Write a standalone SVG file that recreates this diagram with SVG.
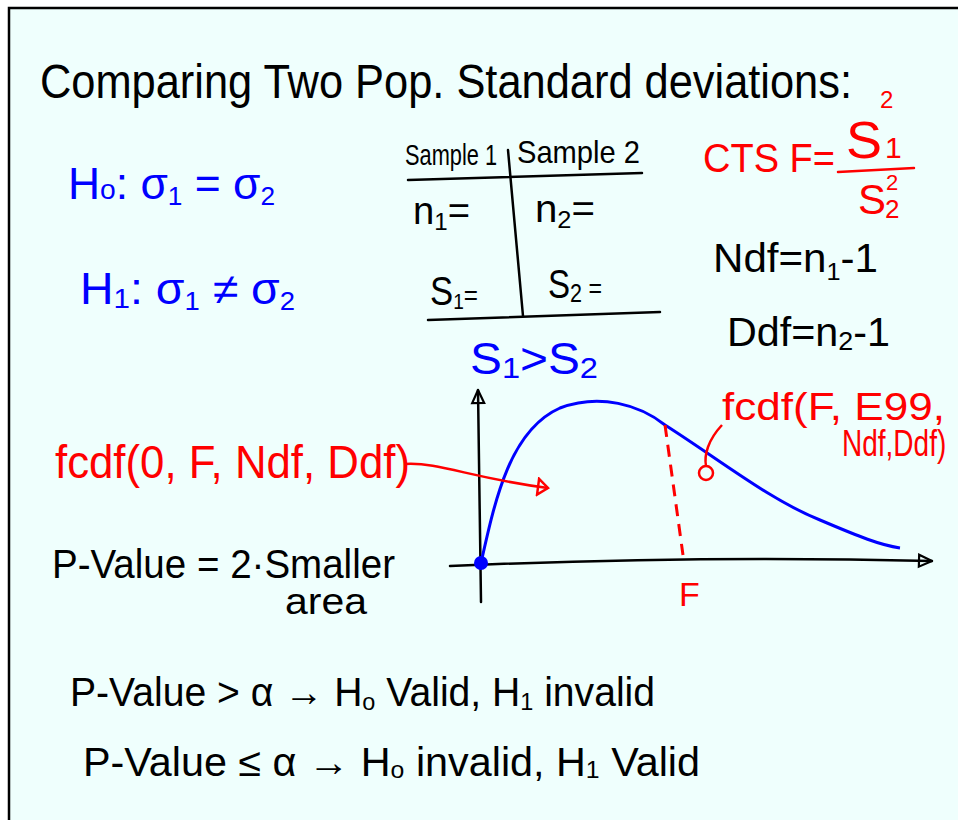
<svg xmlns="http://www.w3.org/2000/svg" width="958" height="820" viewBox="0 0 958 820">
<style>
.t{font-family:"Liberation Sans","DejaVu Sans",sans-serif;}
.k{fill:#000}
.b{fill:#0000ff}
.r{fill:#ff0000}
.ln{fill:none;stroke:#000;stroke-width:2.5;stroke-linecap:round}
</style>
<defs>
<marker id="openTri" viewBox="0 0 16 16" refX="15" refY="8" markerWidth="16" markerHeight="16" markerUnits="userSpaceOnUse" orient="auto">
<path d="M2,2 L15,8 L2,14 Z" fill="none" stroke="#000" stroke-width="2.2"/>
</marker>
<marker id="redTri" viewBox="0 0 14 20" refX="12" refY="10" markerWidth="14" markerHeight="20" markerUnits="userSpaceOnUse" orient="auto">
<path d="M2,2 L12,10 L2,18 Z" fill="none" stroke="#f00" stroke-width="2.5"/>
</marker>
</defs>
<rect x="0" y="0" width="958" height="820" fill="#fff"/>
<rect x="9" y="8" width="960" height="830" fill="#effffd" stroke="#000" stroke-width="2.5"/>

<g id="title"><text class="t k" x="40" y="98" font-size="48" textLength="812" lengthAdjust="spacingAndGlyphs">Comparing  Two  Pop.  Standard  deviations:</text></g>

<g id="h0"><text class="t b" x="68" y="199" font-size="44" textLength="207" lengthAdjust="spacingAndGlyphs">H<tspan font-size="28">o</tspan>: σ<tspan font-size="26" dy="6">1</tspan><tspan dy="-6"> = σ</tspan><tspan font-size="26" dy="6">2</tspan></text></g>
<g id="h1"><text class="t b" x="80" y="304" font-size="44" textLength="215" lengthAdjust="spacingAndGlyphs">H<tspan font-size="28" dy="4">1</tspan><tspan dy="-4">: σ</tspan><tspan font-size="26" dy="6">1</tspan><tspan dy="-6"> ≠ σ</tspan><tspan font-size="26" dy="6">2</tspan></text></g>

<g id="table">
<text class="t k" x="405" y="165" font-size="30" textLength="92" lengthAdjust="spacingAndGlyphs">Sample 1</text>
<text class="t k" x="517" y="163" font-size="32" textLength="123" lengthAdjust="spacingAndGlyphs">Sample 2</text>
<path class="ln" d="M408,180 L642,173"/>
<path class="ln" d="M508,150 L523,316"/>
<path class="ln" d="M428,320 L660,312"/>
<text class="t k" x="413" y="224" font-size="38" textLength="57" lengthAdjust="spacingAndGlyphs">n<tspan font-size="24" dy="6">1</tspan><tspan dy="-6">=</tspan></text>
<text class="t k" x="535" y="222" font-size="38" textLength="60" lengthAdjust="spacingAndGlyphs">n<tspan font-size="24" dy="6">2</tspan><tspan dy="-6">=</tspan></text>
<text class="t k" x="430" y="305" font-size="40" textLength="48" lengthAdjust="spacingAndGlyphs">S<tspan font-size="22" dy="4">1</tspan><tspan dy="-4" font-size="28">=</tspan></text>
<text class="t k" x="548" y="298" font-size="40" textLength="54" lengthAdjust="spacingAndGlyphs">S<tspan font-size="26" dy="4">2</tspan><tspan dy="-4" font-size="28"> =</tspan></text>
</g>

<g id="cond"><text class="t b" x="470" y="374" font-size="44" textLength="128" lengthAdjust="spacingAndGlyphs">S<tspan font-size="30" dy="4">1</tspan><tspan dy="-4">&gt;S</tspan><tspan font-size="30" dy="4">2</tspan></text></g>

<g id="cts">
<text class="t r" x="703" y="172" font-size="40" textLength="132" lengthAdjust="spacingAndGlyphs">CTS  F=</text>
<text class="t r" x="846" y="158" font-size="52" textLength="36" lengthAdjust="spacingAndGlyphs">S</text>
<text class="t r" x="880" y="108" font-size="24">2</text>
<text class="t r" x="885" y="158" font-size="30">1</text>
<path d="M838,172 L914,168" fill="none" stroke="#f00" stroke-width="2.5" stroke-linecap="round"/>
<text class="t r" x="858" y="214" font-size="42" textLength="28" lengthAdjust="spacingAndGlyphs">S</text>
<text class="t r" x="886" y="190" font-size="22">2</text>
<text class="t r" x="885" y="218" font-size="26">2</text>
</g>

<g id="ndf"><text class="t k" x="713" y="272" font-size="40" textLength="165" lengthAdjust="spacingAndGlyphs">Ndf=n<tspan font-size="24" dy="8">1</tspan><tspan dy="-8">-1</tspan></text></g>
<g id="ddf"><text class="t k" x="727" y="346" font-size="40" textLength="163" lengthAdjust="spacingAndGlyphs">Ddf=n<tspan font-size="26" dy="4">2</tspan><tspan dy="-4">-1</tspan></text></g>

<g id="graph">
<path class="ln" d="M481,602 L478,390" marker-end="url(#openTri)"/>
<path class="ln" d="M450,566 Q700,555 932,561" marker-end="url(#openTri)"/>
<path d="M481,563 C495,500 510,430 560,408 C600,393 640,405 665,425 C720,460 770,500 820,520 C860,537 880,545 900,548" fill="none" stroke="#0000ff" stroke-width="3"/>
<circle cx="481" cy="563" r="7" fill="#0000ff"/>
<path d="M665,425 L683,555" fill="none" stroke="#f00" stroke-width="3" stroke-dasharray="12,8"/>
<text class="t r" x="679" y="606" font-size="34">F</text>
</g>

<g id="fcdf1">
<text class="t r" x="55" y="478" font-size="46" textLength="355" lengthAdjust="spacingAndGlyphs">fcdf(0, F, Ndf, Ddf)</text>
</g>
<g id="fcdf2">
<text class="t r" x="722" y="420" font-size="38" textLength="223" lengthAdjust="spacingAndGlyphs">fcdf(F, E99,</text>
<text class="t r" font-size="28" transform="translate(842,456) scale(1,1.3)">Ndf,Ddf)</text>
</g>

<g id="connectors">
<path d="M405,464 C440,462 470,478 548,488" fill="none" stroke="#f00" stroke-width="2.5" marker-end="url(#redTri)"/>
<path d="M722,425 C708,440 704,455 706,466" fill="none" stroke="#f00" stroke-width="2.5"/>
<circle cx="706" cy="473" r="7" fill="none" stroke="#f00" stroke-width="2.5"/>
</g>

<g id="pvalue">
<text class="t k" x="52" y="578" font-size="40" textLength="343" lengthAdjust="spacingAndGlyphs">P-Value = 2·Smaller</text>
<text class="t k" x="285" y="614" font-size="36" textLength="82" lengthAdjust="spacingAndGlyphs">area</text>
</g>

<g id="rule1"><text class="t k" x="70" y="706" font-size="40" textLength="585" lengthAdjust="spacingAndGlyphs">P-Value &gt; α  → H<tspan font-size="24" dy="4">o</tspan><tspan dy="-4"> Valid, H</tspan><tspan font-size="24" dy="4">1</tspan><tspan dy="-4"> invalid</tspan></text></g>
<g id="rule2"><text class="t k" x="83" y="776" font-size="40" textLength="617" lengthAdjust="spacingAndGlyphs">P-Value ≤ α  → H<tspan font-size="24" dy="2">o</tspan><tspan dy="-2"> invalid, H</tspan><tspan font-size="24" dy="2">1</tspan><tspan dy="-2"> Valid</tspan></text></g>
</svg>
